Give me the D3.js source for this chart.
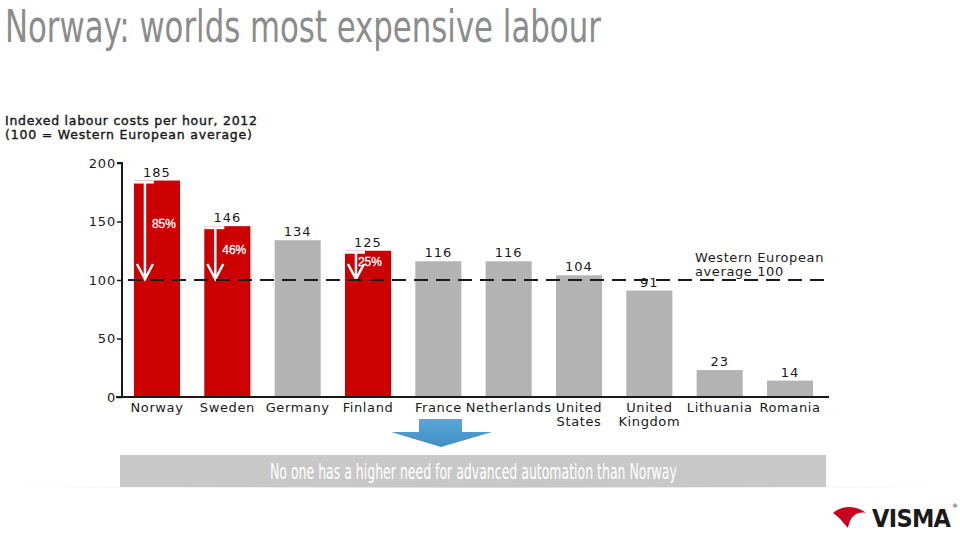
<!DOCTYPE html>
<html><head><meta charset="utf-8">
<script src="https://cdn.jsdelivr.net/npm/d3@7"></script>
<style>
html,body{margin:0;padding:0;background:#fff;}
svg{display:block;}
</style></head>
<body>
<script>
const categories = ["Norway","Sweden","Germany","Finland","France","Netherlands","United States","United Kingdom","Lithuania","Romania"];
const values = [185,146,134,125,116,116,104,91,23,14];
const highlighted = ["Norway","Sweden","Finland"];
const premiums = ["85%","46%","25%"];
const yTicks = [0,50,100,150,200];
const averageValue = 100;
const titleText = "Norway: worlds most expensive labour";
const subtitleLines = ["Indexed labour costs per hour, 2012","(100 = Western European average)"];
const averageLabel = ["Western European","average 100"];
const conclusion = "No one has a higher need for advanced automation than Norway";

const W=960,H=533;
const svg=d3.select("body").append("svg").attr("width",W).attr("height",H);
const defs=svg.append("defs");
const g1=defs.append("linearGradient").attr("id","blueGrad").attr("x1",0).attr("y1",0).attr("x2",0).attr("y2",1);
g1.append("stop").attr("offset","0%").attr("stop-color","#5aa6d6");
g1.append("stop").attr("offset","100%").attr("stop-color","#3f8fc4");
const g2=defs.append("linearGradient").attr("id","shadowGrad").attr("x1",0).attr("y1",0).attr("x2",1).attr("y2",0);
g2.append("stop").attr("offset","0%").attr("stop-color","#e6e6e6").attr("stop-opacity",0);
g2.append("stop").attr("offset","50%").attr("stop-color","#d8d8d8").attr("stop-opacity",1);
g2.append("stop").attr("offset","100%").attr("stop-color","#e6e6e6").attr("stop-opacity",0);

// fit a text to a target width by adjusting letter spacing
function fitSpacing(sel, target){
  const natural=sel.node().getComputedTextLength();
  const n=sel.text().length;
  sel.attr("letter-spacing",(target-natural)/Math.max(1,n-1));
  return sel;
}
// fit a text to a target width by condensing glyphs horizontally
function fitScale(sel, x0, y0, target){
  const natural=sel.node().getComputedTextLength();
  sel.attr("x",0).attr("y",0).attr("transform",`translate(${x0},${y0}) scale(${target/natural},1)`);
  return sel;
}

const narrow="'Liberation Sans Narrow','DejaVu Sans Condensed','Roboto',sans-serif";

// Title
const title=svg.append("text")
  .attr("font-family",narrow).attr("font-size",45).attr("fill","#8c8c8c")
  .text(titleText);
fitScale(title,5,41.5,596);

const font="'DejaVu Sans',Verdana,sans-serif";

// Subtitle
const subLens=[252,247];
subtitleLines.forEach((t,i)=>{
  const s=svg.append("text").attr("x",5).attr("y",125+i*13.5)
    .attr("font-family",font).attr("font-size",12.5).attr("fill","#1a1a1a")
    .attr("stroke","#1a1a1a").attr("stroke-width",0.4)
    .text(t);
  fitSpacing(s,subLens[i]);
});

const x=d3.scaleBand().domain(categories).range([122,825]).paddingInner(0.345).paddingOuter(0.17);
const y=d3.scaleLinear().domain([0,200]).range([397,163]);

const chart=svg.append("g");

// value labels (drawn first so bars overlap as in reference)
chart.selectAll("text.val").data(categories).join("text").attr("class","val")
  .attr("x",d=>x(d)+x.bandwidth()/2)
  .attr("y",(d,i)=>y(values[i])-4)
  .attr("text-anchor","middle").attr("font-family",font).attr("font-size",13)
  .attr("fill","#1a1a1a").attr("letter-spacing",1)
  .text((d,i)=>values[i]);

// bars
chart.selectAll("rect.bar").data(categories).join("rect").attr("class","bar")
  .attr("x",d=>x(d)).attr("width",x.bandwidth())
  .attr("y",(d,i)=>y(values[i])).attr("height",(d,i)=>y(0)-y(values[i]))
  .attr("fill",d=>highlighted.includes(d)?"#cc0000":"#b3b3b3");

// white arrows on highlighted bars
const pctDy=[47,28,15], pctDx=[30,30,25];
highlighted.forEach((c,k)=>{
  const i=categories.indexOf(c);
  const x0=x(c), top=y(values[i]);
  const ax=x0+11;
  const ag=chart.append("g");
  ag.append("line").attr("x1",x0).attr("x2",x0+20).attr("y1",top+1.5).attr("y2",top+1.5)
    .attr("stroke","#fff").attr("stroke-width",3);
  ag.append("line").attr("x1",ax).attr("x2",ax).attr("y1",top+1).attr("y2",y(averageValue)-4)
    .attr("stroke","#fff").attr("stroke-width",2.5);
  ag.append("path").attr("d",`M${ax-8},${y(averageValue)-16} L${ax},${y(averageValue)-1} L${ax+8},${y(averageValue)-16}`)
    .attr("fill","none").attr("stroke","#fff").attr("stroke-width",2.5);
  ag.append("text").attr("x",x0+pctDx[k]).attr("y",top+pctDy[k])
    .attr("text-anchor","middle").attr("font-family","'Liberation Sans',Arial,sans-serif")
    .attr("font-size",12).attr("fill","#fff").attr("stroke","#fff").attr("stroke-width",0.3)
    .text(premiums[k]);
});

// dashed average line
chart.append("line").attr("x1",122).attr("x2",829).attr("y1",y(averageValue)).attr("y2",y(averageValue))
  .attr("stroke","#1a1a1a").attr("stroke-width",2).attr("stroke-dasharray","14,8").attr("stroke-dashoffset",-6);

// average label
averageLabel.forEach((t,i)=>{
  chart.append("text").attr("x",695).attr("y",262+i*13.5).attr("font-family",font).attr("font-size",13)
    .attr("fill","#1a1a1a").attr("letter-spacing",0.6).text(t);
});

// axes
const yAxis=chart.append("g").attr("transform","translate(122,0)")
  .call(d3.axisLeft(y).tickValues(yTicks).tickSize(5).tickPadding(1).tickFormat(d3.format("d")));
yAxis.select(".domain").attr("stroke","#1a1a1a").attr("stroke-width",2).attr("d",`M-5,${y(200)}H0V${y(0)}`);
yAxis.selectAll(".tick line").attr("stroke","#1a1a1a").attr("stroke-width",1.5);
yAxis.selectAll(".tick text").attr("font-family",font).attr("font-size",13).attr("fill","#1a1a1a").attr("letter-spacing",0.8);

const xAxis=chart.append("g").attr("transform",`translate(0,${y(0)})`)
  .call(d3.axisBottom(x).tickSize(0).tickPadding(6));
xAxis.select(".domain").attr("stroke","#1a1a1a").attr("stroke-width",2).attr("d","M116,0H829");
xAxis.selectAll(".tick text").attr("font-family",font).attr("font-size",13).attr("fill","#1a1a1a").attr("letter-spacing",0.6)
  .each(function(d){
    const words=d.split(" ");
    const t=d3.select(this); t.text(null);
    if(words.length===1){ t.append("tspan").attr("x",0).attr("dy","0.71em").text(d); }
    else { words.forEach((w,j)=>t.append("tspan").attr("x",0).attr("dy",j===0?"0.71em":"1.05em").text(w)); }
  });

// blue arrow
svg.append("path").attr("d","M419,419 H462 V432 H492 L441,447 L391,432 H419 Z").attr("fill","url(#blueGrad)");

// conclusion box
svg.append("rect").attr("x",10).attr("y",486).attr("width",940).attr("height",2).attr("fill","url(#shadowGrad)");
svg.append("rect").attr("x",120).attr("y",455).attr("width",706).attr("height",32).attr("fill","#c8c8c8");
const concl=svg.append("text")
  .attr("font-family",narrow).attr("font-size",21).attr("fill","#fff")
  .text(conclusion);
fitScale(concl,270,479,407);

// VISMA logo
const logo=svg.append("g");
logo.append("path").attr("d","M833,513 C842,505 856,505 866,513 C858,511 850,515 848,528 C842,521 838,516 833,513 Z").attr("fill","#c8001e");
const vis=logo.append("text").attr("x",872).attr("y",527).attr("font-family",narrow).attr("font-weight","bold")
  .attr("font-size",25).attr("fill","#1a1a1a").text("VISMA");
fitSpacing(vis,79);
logo.append("text").attr("x",952).attr("y",508).attr("font-family","'DejaVu Sans',sans-serif").attr("font-size",6).attr("fill","#1a1a1a").text("®");
</script>
</body></html>
